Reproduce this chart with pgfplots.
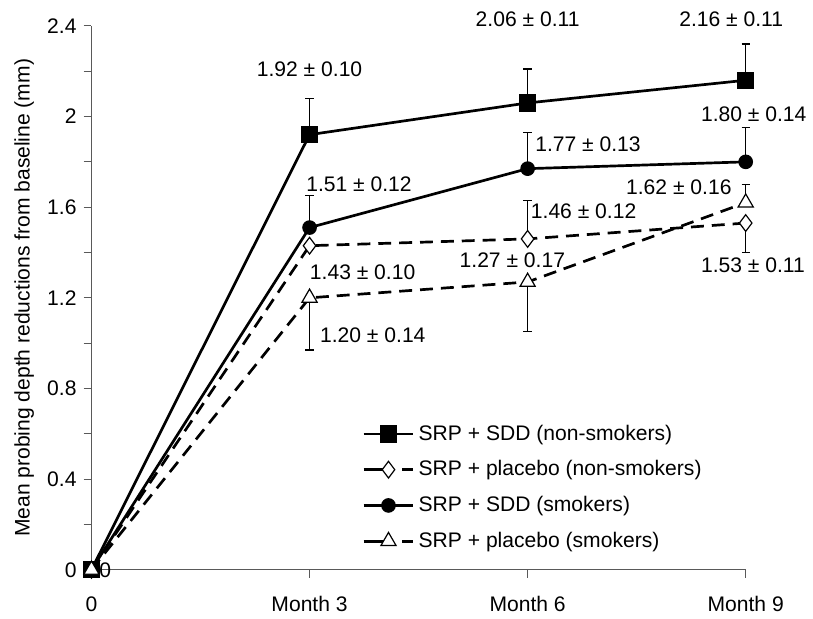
\documentclass[border=0pt]{standalone}
\usepackage{pgfplots}
\pgfplotsset{compat=1.18}
\usepackage{fontspec}
\setmainfont{Liberation Sans}
\begin{document}
\begin{tikzpicture}[font=\fontsize{10.6}{12.7}\selectfont]
\begin{axis}[
 scale only axis, width=329pt, height=273.5pt,
 xmin=0, xmax=9, ymin=0, ymax=2.4,
 axis x line*=bottom, axis y line*=left,
 axis line style={black!65, line width=0.6pt, -},
 xtick={0,3,6,9}, xticklabels={0,Month 3,Month 6,Month 9},
 ytick={0,0.4,0.8,1.2,1.6,2,2.4}, minor ytick={0.2,0.6,1.0,1.4,1.8,2.2},
 yticklabels={0,0.4,0.8,1.2,1.6,2,2.4},
 tick align=outside, tick style={black!65, line width=0.6pt},
 major tick length=4pt, minor tick length=4pt,
 xticklabel style={yshift=-6pt},
 ylabel={Mean probing depth reductions from baseline (mm)},
 ylabel style={at={(axis description cs:-0.103,0.5)}, anchor=center},
 clip=false,
 /pgf/number format/assume math mode=true,
 legend cell align=left,
 legend image code/.code={\draw[mark repeat=2,mark phase=2,#1] plot coordinates {(0pt,0pt) (12.5pt,0pt) (25pt,0pt)};},
 legend style={at={(axis cs:3.72,0.659)}, anchor=north west, draw=none, fill=none, inner sep=0pt, row sep=4.8pt, font=\fontsize{10.6}{12.7}\selectfont},
 every axis plot/.append style={black},
]
% invisible frame matching reference canvas
\path (axis cs:-1.2585,-0.1843) rectangle (axis cs:9.863,2.5143);
% error bars (plus direction)
\addplot[forget plot, draw=none, mark=none, error bars/.cd, y dir=plus, y explicit,
  error bar style={line width=0.6pt, draw=black, solid}, error mark=|, error mark options={line width=0.6pt, mark size=2.1pt, draw=black, solid}]
 coordinates {(3,1.92) +- (0,0.16) (6,2.06) +- (0,0.15) (9,2.16) +- (0,0.16)
              (3,1.51) +- (0,0.14) (6,1.77) +- (0,0.16) (9,1.80) +- (0,0.15)
              (6,1.46) +- (0,0.17) (9,1.62) +- (0,0.08)};
% error bars (minus direction)
\addplot[forget plot, draw=none, mark=none, error bars/.cd, y dir=minus, y explicit,
  error bar style={line width=0.6pt, draw=black, solid}, error mark=|, error mark options={line width=0.6pt, mark size=2.1pt, draw=black, solid}]
 coordinates {(9,1.53) +- (0,0.13) (3,1.20) +- (0,0.23) (6,1.27) +- (0,0.22)};
% series
\addplot[line width=1.35pt, mark=square*, mark size=3.7pt, mark options={solid, fill=black}]
 coordinates {(0,0) (3,1.92) (6,2.06) (9,2.16)};
\addlegendentry{SRP + SDD (non-smokers)}
\addplot[line width=1.35pt, dash pattern=on 6.5pt off 4pt, mark=diamond*, mark size=4.2pt, mark options={solid, fill=white, line width=0.6pt},
  legend image post style={dash pattern=on 11pt off 8.5pt on 6pt off 10pt}]
 coordinates {(0,0) (3,1.43) (6,1.46) (9,1.53)};
\addlegendentry{SRP + placebo (non-smokers)}
\addplot[line width=1.35pt, mark=*, mark size=3pt, mark options={solid, fill=black}]
 coordinates {(0,0) (3,1.51) (6,1.77) (9,1.80)};
\addlegendentry{SRP + SDD (smokers)}
\addplot[line width=1.35pt, dash pattern=on 6.5pt off 4pt, mark=triangle*, mark size=4.4pt, mark options={solid, fill=white, line width=0.6pt},
  legend image post style={dash pattern=on 11pt off 8.5pt on 6pt off 10pt}]
 coordinates {(0,0) (3,1.20) (6,1.27) (9,1.62)};
\addlegendentry{SRP + placebo (smokers)}
% value labels
\node at (axis cs:3,2.21) {1.92 ± 0.10};
\node at (axis cs:6,2.43) {2.06 ± 0.11};
\node at (axis cs:8.8,2.43) {2.16 ± 0.11};
\node at (axis cs:9.11,2.01) {1.80 ± 0.14};
\node at (axis cs:6.83,1.878) {1.77 ± 0.13};
\node at (axis cs:3.68,1.70) {1.51 ± 0.12};
\node at (axis cs:6.77,1.584) {1.46 ± 0.12};
\node at (axis cs:3.73,1.312) {1.43 ± 0.10};
\node at (axis cs:5.79,1.365) {1.27 ± 0.17};
\node at (axis cs:3.87,1.036) {1.20 ± 0.14};
\node at (axis cs:8.08,1.689) {1.62 ± 0.16};
\node at (axis cs:9.10,1.343) {1.53 ± 0.11};
\node at (axis cs:0.19,0) {0};
\end{axis}
\end{tikzpicture}
\end{document}
